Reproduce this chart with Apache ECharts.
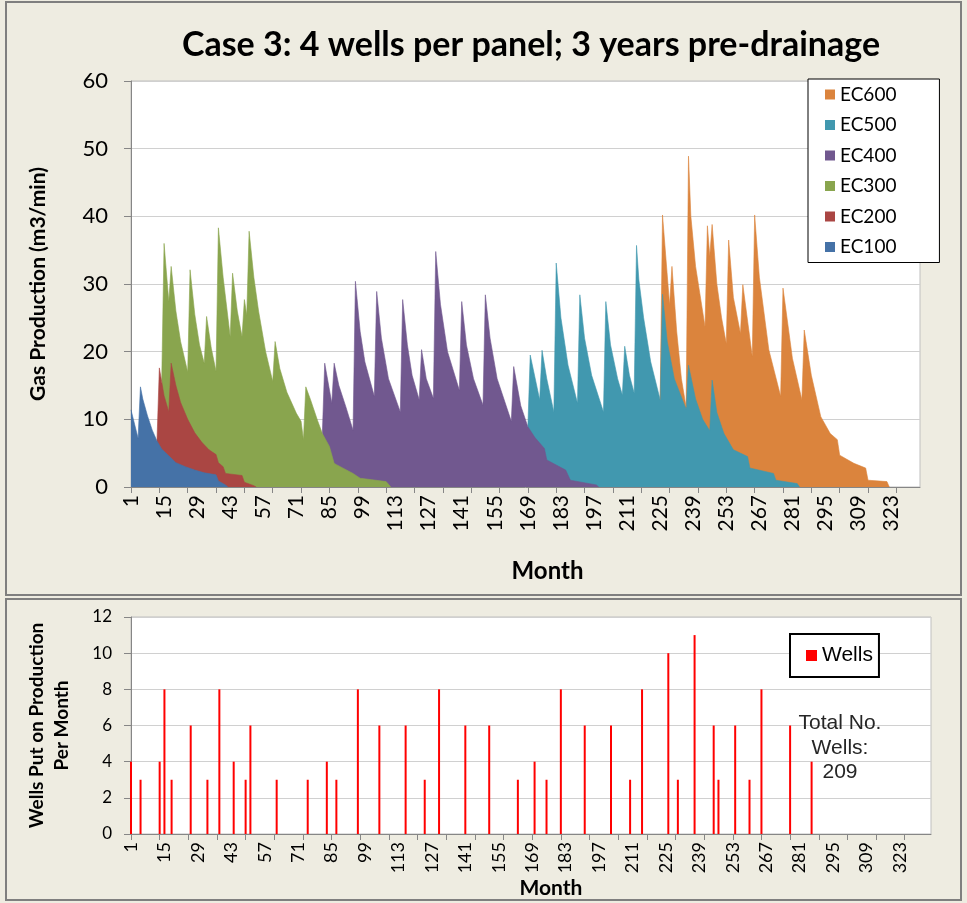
<!DOCTYPE html>
<html>
<head>
<meta charset="utf-8">
<script src="https://cdn.jsdelivr.net/npm/echarts@6/dist/echarts.min.js"></script>
<style>
html, body { margin: 0; padding: 0; background: #EEECE1; }
#chart { width: 967px; height: 903px; }
</style>
</head>
<body>
<div id="chart"></div>
<script>
// cumulative top of each stacked band, [month, m3/min]
var ec100 = [[1,11.4],[4,7.2],[5,14.8],[6,13.0],[8,10.5],[10,8.4],[12,6.8],[14,5.6],[17,4.6],[20,3.6],[24,3.0],[28,2.5],[32,2.1],[37,1.8],[38,0.9],[41,0.3],[42,0]];
var ec200 = [[12,6.8],[13,17.6],[15,13.5],[17,11.1],[18,18.3],[20,15.0],[22,12.5],[25,10.0],[28,8.0],[31,6.6],[34,5.5],[37,4.8],[38,3.6],[40,3.0],[41,2.0],[48,1.7],[49,0.7],[53,0.2],[54,0]];
var ec300 = [[14,15.6],[15,36.0],[17,27.4],[18,32.6],[20,26.0],[22,21.5],[25,17.0],[26,32.1],[28,25.5],[30,21.0],[32,18.3],[33,25.2],[35,20.5],[37,17.1],[38,38.3],[40,31.0],[43,22.2],[44,31.6],[46,26.0],[48,22.2],[49,27.7],[50,25.4],[51,37.8],[53,31.0],[55,26.0],[58,20.0],[61,15.6],[62,21.5],[64,17.5],[67,14.0],[71,10.9],[73,9.7],[74,7.0],[75,14.8],[77,12.9],[80,9.8],[82,7.9],[85,6.0],[87,3.5],[88,3.3],[95,2.0],[98,1.3],[109,0.8],[111,0]];
var ec400 = [[82,7.9],[83,18.3],[86,12.4],[87,18.3],[89,15.0],[92,11.8],[95,8.4],[96,30.4],[98,23.0],[100,18.5],[104,13.4],[105,28.9],[107,22.0],[110,16.0],[115,11.1],[116,27.7],[118,21.0],[120,16.5],[123,12.9],[124,20.3],[126,16.0],[129,13.1],[130,34.8],[132,27.0],[135,20.0],[140,14.3],[141,27.4],[143,21.0],[146,16.0],[150,12.1],[151,28.4],[153,22.0],[156,16.0],[162,9.7],[163,17.8],[166,12.0],[169,8.9],[172,7.3],[176,5.7],[177,4.0],[185,2.5],[187,1.0],[198,0.3],[199,0]];
var ec500 = [[169,8.9],[170,19.5],[174,12.9],[175,20.2],[177,16.0],[180,11.1],[181,33.1],[183,25.0],[186,18.0],[190,12.4],[191,28.4],[193,22.0],[196,16.5],[201,11.1],[202,27.4],[204,21.0],[207,16.0],[209,13.6],[210,20.8],[212,16.5],[214,13.9],[215,35.7],[216,30.6],[218,25.0],[221,18.5],[225,12.9],[226,28.5],[228,21.5],[231,16.0],[236,11.5],[237,18.0],[240,13.0],[243,10.0],[246,8.3],[247,15.8],[249,11.0],[252,7.9],[256,5.5],[262,4.5],[263,2.8],[273,2.0],[274,1.0],[283,0.5],[284,0]];
var ec600 = [[225,12.9],[226,40.2],[229,26.9],[230,32.6],[232,23.0],[234,16.0],[236,11.8],[237,48.9],[238,40.0],[240,32.6],[244,23.7],[245,38.6],[246,34.1],[247,38.8],[249,30.0],[251,25.0],[253,21.2],[254,36.5],[256,28.0],[259,22.7],[260,29.9],[264,19.3],[265,40.2],[267,31.0],[271,20.3],[276,13.4],[277,29.4],[281,19.0],[285,12.9],[286,23.2],[289,16.5],[293,10.4],[297,7.9],[300,7.0],[301,4.7],[307,3.5],[312,2.8],[313,1.0],[321,0.8],[322,0]];

// wells put on production
var wellMonths = [1,5,13,15,18,26,33,38,44,49,51,62,75,83,87,96,105,116,124,130,141,151,163,170,175,181,191,202,210,215,226,230,237,245,247,254,260,265,277,286];
var wellCounts = [4,3,4,8,3,6,3,8,4,3,6,3,3,4,3,8,6,6,3,8,6,6,3,4,3,8,6,6,3,8,10,3,11,6,3,6,3,8,6,4];

var seriesNames = ['EC600','EC500','EC400','EC300','EC200','EC100'];
var seriesColors = ['#DB843D','#4198AF','#71588F','#89A54E','#AA4643','#4572A7'];
var seriesData = [ec600, ec500, ec400, ec300, ec200, ec100];

var topMonths = [];
for (var i = 1; i <= 335; i++) topMonths.push(String(i));
var bottomMonths = [];
for (var j = 1; j <= 336; j++) bottomMonths.push(String(j));

var FONT = 'Lato, "Open Sans", sans-serif';
var ARIAL = '"Liberation Sans", Arial, sans-serif';

function toPairs(list) {
    return list.map(function(p) {
        return [String(p[0]), p[1]];
    });
}

function areaSeries(name, list, color) {
    return {
        name: name,
        type: 'line',
        xAxisIndex: 0,
        yAxisIndex: 0,
        data: toPairs(list),
        symbol: 'none',
        lineStyle: { width: 0.6, color: color },
        itemStyle: { color: color },
        areaStyle: { color: color, opacity: 1 },
        silent: true
    };
}

function xAxisCfg(grid, data, labelSize, nameGap, nameSize, shift) {
    return {
        type: 'category',
        gridIndex: grid,
        data: data,
        boundaryGap: false,
        axisLine: { lineStyle: { color: '#868686' } },
        axisTick: { interval: 11, length: 6, lineStyle: { color: '#868686' } },
        axisLabel: { interval: 13, rotate: 90, fontSize: labelSize, fontFamily: FONT, color: '#000', margin: 8 },
        splitLine: { show: false },
        name: 'Month',
        nameLocation: 'middle',
        nameGap: nameGap,
        nameTextStyle: { fontSize: nameSize, fontWeight: 'bold', fontFamily: FONT, color: '#000', padding: [0, 0, 0, shift] }
    };
}

function yAxisCfg(grid, max, step, labelSize, margin, name, nameGap, nameSize) {
    return {
        type: 'value',
        gridIndex: grid,
        min: 0,
        max: max,
        interval: step,
        axisLine: { show: true, lineStyle: { color: '#868686' } },
        axisTick: { show: true, length: 7, lineStyle: { color: '#868686' } },
        axisLabel: { fontSize: labelSize, fontFamily: FONT, color: '#000', margin: margin },
        splitLine: { lineStyle: { color: '#D0D0D0', width: 1.2 } },
        name: name,
        nameLocation: 'middle',
        nameGap: nameGap,
        nameTextStyle: { fontSize: nameSize, fontWeight: 'bold', fontFamily: FONT, color: '#000', lineHeight: 25 }
    };
}

var series = seriesNames.map(function(n, k) {
    return areaSeries(n, seriesData[k], seriesColors[k]);
});
series.push({
    name: 'Wells',
    type: 'bar',
    xAxisIndex: 1,
    yAxisIndex: 1,
    barWidth: 2,
    itemStyle: { color: '#FF0000' },
    data: wellMonths.map(function(m, k) { return [String(m), wellCounts[k]]; })
});

var chart = echarts.init(document.getElementById('chart'));
chart.setOption({
    backgroundColor: '#EEECE1',
    animation: false,
    title: {
        text: 'Case 3: 4 wells per panel; 3 years pre-drainage',
        left: 526,
        top: 23,
        textAlign: 'center',
        textStyle: { fontSize: 34, fontWeight: 'bold', fontFamily: FONT, color: '#000' }
    },
    grid: [
        { left: 131, top: 81, width: 789, height: 406, show: true, backgroundColor: '#fff', borderColor: '#BFBFBF', borderWidth: 1 },
        { left: 131, top: 617, width: 800, height: 217, show: true, backgroundColor: '#fff', borderColor: '#BFBFBF', borderWidth: 1 }
    ],
    xAxis: [
        xAxisCfg(0, topMonths, 21, 72, 24, 44),
        xAxisCfg(1, bottomMonths, 18, 44, 21, 40)
    ],
    yAxis: [
        yAxisCfg(0, 60, 10, 22, 23, 'Gas Production (m3/min)', 80, 21),
        yAxisCfg(1, 12, 2, 17, 19, 'Wells Put on Production\nPer Month', 57, 19)
    ],
    legend: [
        {
            data: seriesNames,
            orient: 'vertical',
            left: 808,
            top: 79,
            padding: [6, 43, 6, 17],
            itemGap: 11.5,
            itemWidth: 10,
            itemHeight: 10,
            icon: 'rect',
            backgroundColor: '#fff',
            borderColor: '#000',
            borderWidth: 1,
            textStyle: { fontSize: 19, fontFamily: FONT, color: '#000' }
        },
        {
            data: ['Wells'],
            left: 790,
            top: 634,
            padding: [11, 6, 11, 16],
            itemWidth: 11,
            itemHeight: 11,
            icon: 'rect',
            backgroundColor: '#fff',
            borderColor: '#000',
            borderWidth: 2,
            textStyle: { fontSize: 21, fontFamily: ARIAL, color: '#000' }
        }
    ],
    graphic: [
        { type: 'rect', silent: true, z: -1, shape: { x: 6, y: 2, width: 955, height: 593 }, style: { fill: 'none', stroke: '#7F7F7F', lineWidth: 2 } },
        { type: 'rect', silent: true, z: -1, shape: { x: 6, y: 599, width: 955, height: 301 }, style: { fill: 'none', stroke: '#7F7F7F', lineWidth: 2 } },
        { type: 'text', silent: true, z: 10, style: { x: 840, y: 711, text: 'Total No.\nWells:\n209', textAlign: 'center', textVerticalAlign: 'top', font: '21px "Liberation Sans", Arial, sans-serif', fill: '#262626', lineHeight: 24.5 } }
    ],
    series: series
});
</script>
</body>
</html>
